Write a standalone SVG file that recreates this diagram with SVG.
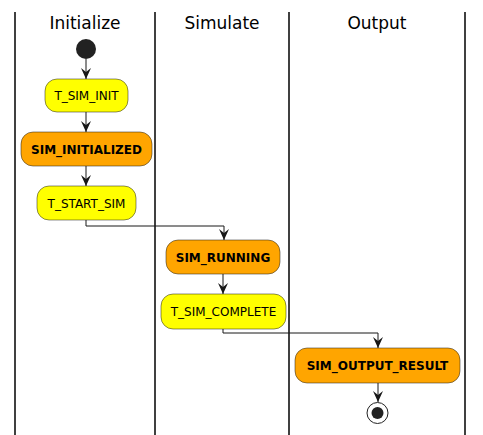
<svg xmlns="http://www.w3.org/2000/svg" width="483" height="435" viewBox="0 0 483 435">
<style>
.lane{stroke:#000;stroke-width:1.5;fill:none}
.title{font-family:"DejaVu Sans",sans-serif;font-size:17px;fill:#000;text-anchor:middle}
.y{fill:#FFFF00;stroke:#181818;stroke-width:0.5}
.o{fill:#FFA500;stroke:#181818;stroke-width:0.5}
.t{font-family:"DejaVu Sans",sans-serif;font-size:12px;fill:#000;text-anchor:middle}
.b{font-weight:bold}
.c{stroke:#181818;stroke-width:1;fill:none}
</style>
<defs>
<marker id="ah" markerWidth="12" markerHeight="10" refX="11" refY="5" orient="auto" markerUnits="userSpaceOnUse" viewBox="0 0 12 10">
<polygon points="0,0 11,5 0,10 4,5" fill="#181818"/>
</marker>
</defs>
<rect width="483" height="435" fill="#fff"/>
<g id="lanes">
<line class="lane" x1="15" y1="12" x2="15" y2="435"/>
<line class="lane" x1="155" y1="12" x2="155" y2="435"/>
<line class="lane" x1="289" y1="12" x2="289" y2="435"/>
<line class="lane" x1="465" y1="12" x2="465" y2="435"/>
<text class="title" x="85" y="29">Initialize</text>
<text class="title" x="222" y="29">Simulate</text>
<text class="title" x="377" y="29">Output</text>
</g>
<g id="connectors">
<path class="c" d="M86,59 V79" marker-end="url(#ah)"/>
<path class="c" d="M86,112 V132" marker-end="url(#ah)"/>
<path class="c" d="M86,166 V186" marker-end="url(#ah)"/>
<path class="c" d="M86,220 V226 H224 V240" marker-end="url(#ah)"/>
<path class="c" d="M223,274 V294" marker-end="url(#ah)"/>
<path class="c" d="M223,329 V333 H378 V348" marker-end="url(#ah)"/>
<path class="c" d="M378,383 V402" marker-end="url(#ah)"/>
</g>
<g id="start"><circle cx="86" cy="49" r="10" fill="#222"/></g>
<g id="T_SIM_INIT"><rect class="y" x="45" y="79" width="83" height="33" rx="12"/><text class="t" x="86.5" y="100">T_SIM_INIT</text></g>
<g id="SIM_INITIALIZED"><rect class="o" x="21" y="132" width="131" height="34" rx="12"/><text class="t b" x="86.5" y="153.5">SIM_INITIALIZED</text></g>
<g id="T_START_SIM"><rect class="y" x="37" y="186" width="99" height="34" rx="12"/><text class="t" x="86.5" y="207.5">T_START_SIM</text></g>
<g id="SIM_RUNNING"><rect class="o" x="166" y="240" width="114" height="34" rx="12"/><text class="t b" x="223" y="261.5">SIM_RUNNING</text></g>
<g id="T_SIM_COMPLETE"><rect class="y" x="161" y="294" width="125" height="35" rx="12"/><text class="t" x="223.5" y="316">T_SIM_COMPLETE</text></g>
<g id="SIM_OUTPUT_RESULT"><rect class="o" x="295" y="348" width="165" height="35" rx="12"/><text class="t b" x="377.5" y="370">SIM_OUTPUT_RESULT</text></g>
<g id="end"><circle cx="377.5" cy="413" r="10.5" fill="#fff" stroke="#222" stroke-width="1"/><circle cx="377.5" cy="413" r="6" fill="#222"/></g>
</svg>
